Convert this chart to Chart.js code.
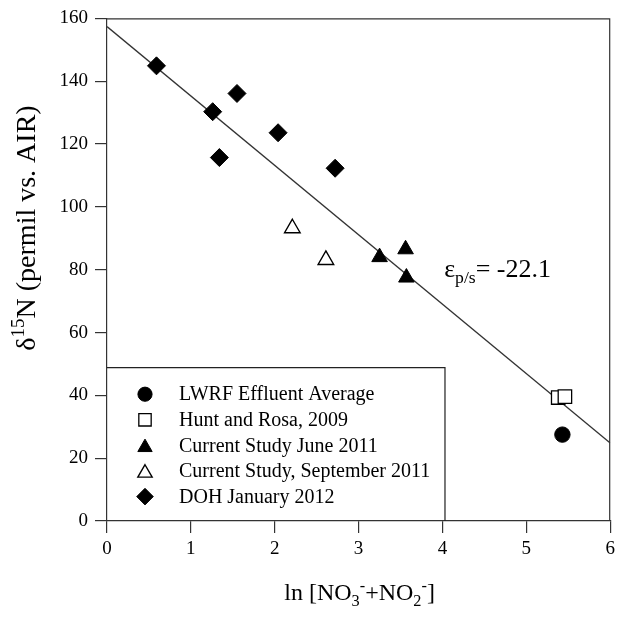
<!DOCTYPE html>
<html>
<head>
<meta charset="utf-8">
<script src="https://cdn.jsdelivr.net/npm/chart.js@4/dist/chart.umd.min.js"></script>
<style>
  html, body { margin: 0; padding: 0; background: #fff; }
  #wrap { width: 621px; height: 617px; }
</style>
</head>
<body>
<div id="wrap"><canvas id="c" width="621" height="617"></canvas></div>
<script>
// Series names, in legend order
const seriesNames = [
  'LWRF Effluent Average',
  'Hunt and Rosa, 2009',
  'Current Study June 2011',
  'Current Study, September 2011',
  'DOH January 2012'
];

// ln[NO3- + NO2-] (x) and δ15N in permil vs. AIR (y)
const lwrfX = [5.43];
const lwrfY = [27.5];
const huntX = [5.38, 5.46];
const huntY = [39.3, 39.6];
const juneX = [3.25, 3.56, 3.57];
const juneY = [84.0, 86.5, 77.5];
const septX = [2.21, 2.61];
const septY = [93.2, 83.1];
const dohX = [0.59, 1.26, 1.34, 1.55, 2.04, 2.72];
const dohY = [144.9, 130.3, 115.7, 136.1, 123.6, 112.3];

// Rayleigh fit: enrichment factor (slope) and intercept
const fitSlope = -22.1;
const fitIntercept = 157.4;
const fitRangeX = [0, 6];

// Axis ranges and tick steps
const xRange = [0, 6];
const xStep = 1;
const yRange = [0, 160];
const yStep = 20;

const SERIF = '"Liberation Serif", "Times New Roman", Times, serif';

const pts = (xs, ys) => xs.map((x, i) => ({ x, y: ys[i] }));

const datasets = [
  { label: seriesNames[0], data: pts(lwrfX, lwrfY), pointStyle: 'circle', pointRadius: 7.7,
    backgroundColor: '#000', borderColor: '#000', borderWidth: 1, showLine: false },
  { label: seriesNames[1], data: pts(huntX, huntY), pointStyle: 'rect', pointRadius: 9.5,
    backgroundColor: '#fff', borderColor: '#000', borderWidth: 1.3, showLine: false },
  { label: seriesNames[2], data: pts(juneX, juneY), pointStyle: 'triangle', pointRadius: 9,
    backgroundColor: '#000', borderColor: '#000', borderWidth: 1, showLine: false },
  { label: seriesNames[3], data: pts(septX, septY), pointStyle: 'triangle', pointRadius: 9,
    backgroundColor: '#fff', borderColor: '#000', borderWidth: 1.4, showLine: false },
  { label: seriesNames[4], data: pts(dohX, dohY), pointStyle: 'rectRot', pointRadius: 9,
    backgroundColor: '#000', borderColor: '#000', borderWidth: 1, showLine: false },
  { label: 'fit', type: 'line',
    data: fitRangeX.map(x => ({ x, y: fitIntercept + fitSlope * x })),
    borderColor: '#333', borderWidth: 1.3, pointRadius: 0, showLine: true, fill: false }
];

// Draw text made of normal / superscript / subscript runs
function richWidth(ctx, runs, size) {
  let w = 0;
  for (const r of runs) {
    const s = r.m === 'n' ? size : size * 0.68;
    ctx.font = s + 'px ' + SERIF;
    w += ctx.measureText(r.t).width;
  }
  return w;
}
function drawRich(ctx, runs, x, y, size, align) {
  const w = richWidth(ctx, runs, size);
  let cx = align === 'center' ? x - w / 2 : x;
  ctx.textBaseline = 'alphabetic';
  ctx.textAlign = 'left';
  for (const r of runs) {
    const s = r.m === 'n' ? size : size * 0.68;
    const dy = r.m === 'sup' ? -size * 0.38 : r.m === 'sub' ? size * 0.24 : 0;
    ctx.font = s + 'px ' + SERIF;
    ctx.fillText(r.t, cx, y + dy);
    cx += ctx.measureText(r.t).width;
  }
}

const framePlugin = {
  id: 'frame',
  afterDatasetsDraw(chart) {
    const { ctx, chartArea: a } = chart;
    ctx.save();
    ctx.strokeStyle = '#333';
    ctx.lineWidth = 1.2;
    ctx.beginPath();
    ctx.moveTo(a.left, a.top + 0.5);
    ctx.lineTo(a.right - 0.5, a.top + 0.5);
    ctx.lineTo(a.right - 0.5, a.bottom);
    ctx.stroke();
    ctx.restore();
  }
};

// Boxed legend sitting in the lower-left corner of the plot
const boxLegendPlugin = {
  id: 'boxLegend',
  afterDraw(chart) {
    const { ctx, chartArea: a } = chart;
    const xs = chart.scales.x;
    const right = xs.getPixelForValue(4.03);
    const top = chart.scales.y.getPixelForValue(48.8);
    ctx.save();
    ctx.fillStyle = '#fff';
    ctx.fillRect(a.left + 1, top, right - a.left - 1, a.bottom - top - 1);
    ctx.strokeStyle = '#222';
    ctx.lineWidth = 1.2;
    ctx.beginPath();
    ctx.moveTo(a.left, top);
    ctx.lineTo(right, top);
    ctx.lineTo(right, a.bottom);
    ctx.stroke();
    const rowH = 25.6;
    const y0 = top + 26.5;
    for (let i = 0; i < 5; i++) {
      const d = chart.data.datasets[i];
      const y = y0 + i * rowH;
      ctx.fillStyle = d.backgroundColor;
      ctx.strokeStyle = d.borderColor;
      ctx.lineWidth = d.borderWidth;
      let yy = y;
      if (d.pointStyle === 'triangle') yy = y + 2;
      Chart.helpers.drawPoint(ctx, {
        pointStyle: d.pointStyle, radius: d.pointRadius * 0.92, rotation: 0, borderWidth: d.borderWidth
      }, a.left + 38, yy);
      ctx.fillStyle = '#000';
      ctx.font = '20px ' + SERIF;
      ctx.textBaseline = 'middle';
      ctx.textAlign = 'left';
      ctx.fillText(d.label, a.left + 72, y + 1);
    }
    ctx.restore();
  }
};

const titlesPlugin = {
  id: 'titles',
  afterDraw(chart) {
    const { ctx, chartArea: a } = chart;
    ctx.save();
    ctx.fillStyle = '#000';
    // x-axis title
    drawRich(ctx, [
      { t: 'ln [NO', m: 'n' }, { t: '3', m: 'sub' }, { t: '-', m: 'sup' },
      { t: '+NO', m: 'n' }, { t: '2', m: 'sub' }, { t: '-', m: 'sup' }, { t: ']', m: 'n' }
    ], (a.left + a.right) / 2 + 1, 600, 24, 'center');
    // y-axis title
    ctx.save();
    ctx.translate(35, 228);
    ctx.rotate(-Math.PI / 2);
    drawRich(ctx, [
      { t: 'δ', m: 'n' }, { t: '15', m: 'sup' }, { t: 'N (permil vs. AIR)', m: 'n' }
    ], 0, 0, 28, 'center');
    ctx.restore();
    // enrichment factor label
    const lx = chart.scales.x.getPixelForValue(4.02);
    const ly = chart.scales.y.getPixelForValue(77.8);
    drawRich(ctx, [
      { t: 'ε', m: 'n' }, { t: 'p/s', m: 'sub' }, { t: '= -22.1', m: 'n' }
    ], lx, ly, 26, 'left');
    ctx.restore();
  }
};

const axisCommon = {
  type: 'linear',
  grid: { drawOnChartArea: false, drawTicks: true, tickLength: 12, color: '#333', lineWidth: 1.2 },
  border: { display: true, color: '#333', width: 1.2 },
  title: { display: false }
};

new Chart(document.getElementById('c'), {
  type: 'scatter',
  data: { datasets },
  options: {
    responsive: false,
    animation: false,
    devicePixelRatio: 1,
    layout: { padding: { top: 15, right: 7, left: 0, bottom: 0 } },
    plugins: { legend: { display: false }, tooltip: { enabled: false } },
    scales: {
      x: Object.assign({}, axisCommon, {
        position: 'bottom',
        min: xRange[0], max: xRange[1],
        ticks: { stepSize: xStep, color: '#000', font: { family: SERIF, size: 19 }, padding: 5, maxRotation: 0 },
        afterFit(s) { s.height = 96; }
      }),
      y: Object.assign({}, axisCommon, {
        position: 'left',
        min: yRange[0], max: yRange[1],
        ticks: { stepSize: yStep, color: '#000', font: { family: SERIF, size: 19 }, padding: 7 },
        afterFit(s) { s.width = 107; }
      })
    }
  },
  plugins: [framePlugin, boxLegendPlugin, titlesPlugin]
});
</script>
</body>
</html>
